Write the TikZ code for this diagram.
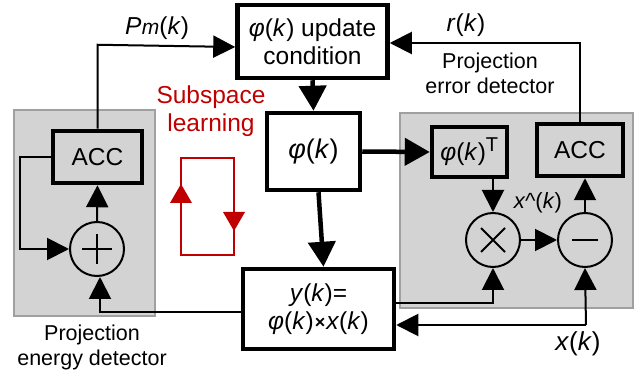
\documentclass[tikz,border=0pt]{standalone}
\usepackage{fontspec}
\setmainfont{Liberation Sans}
\usetikzlibrary{arrows.meta}
\definecolor{panel}{HTML}{D3D3D3}
\definecolor{paneledge}{HTML}{A0A0A0}
\definecolor{lred}{HTML}{C00000}
\begin{document}
\begin{tikzpicture}[x=1pt,y=-1pt,
  txt/.style={font=\fontsize{24.5}{28}\selectfont,align=center,inner sep=0pt},
  blk/.style={txt,draw,line width=4.5pt,fill=white},
  accbox/.style={blk,fill=panel},
  sumnode/.style={draw,circle,line width=2pt,minimum size=54pt,inner sep=0pt},
  thin/.style={line width=2pt,-{Triangle[length=22pt,width=22pt]}},
  thick/.style={line width=4.5pt,-{Triangle[length=25pt,width=27pt]}},
  panelbox/.style={draw=paneledge,fill=panel,line width=2pt},
  redline/.style={draw=lred,line width=2pt}
]
\useasboundingbox (0,0) rectangle (641,377);
% panels
\draw[panelbox] (14,110) rectangle (155,316);
\draw[panelbox] (400,113) rectangle (633,308);

% blocks
\node[blk,minimum width=150pt,minimum height=73pt] (upd) at (312.5,41.5) {\textit{φ}(\textit{k}) update\\condition};
\node[blk,minimum width=93pt,minimum height=77pt] (phi) at (313.5,151.5) {\fontsize{27}{30}\selectfont\textit{φ}(\textit{k})};
\node[blk,minimum width=151pt,minimum height=80pt] (yb) at (318.5,309) {\textit{y}(\textit{k})=\\\textit{φ}(\textit{k})\kern1pt\raisebox{1pt}{\fontsize{18}{20}\selectfont\textbf{×}}\kern1pt\textit{x}(\textit{k})};
\node[accbox,minimum width=89pt,minimum height=52pt] (accL) at (97.5,157) {ACC};
\node[accbox,minimum width=75pt,minimum height=50pt] (phiT) at (469.5,152) {\textit{φ}(\textit{k})\textsuperscript{\fontsize{20}{20}\selectfont T}};
\node[accbox,minimum width=86pt,minimum height=52pt] (accR) at (580,150) {ACC};

% operator circles
\node[sumnode] (plus) at (97,249) {};
\node[sumnode] (mult) at (493,240) {};
\node[sumnode] (minus) at (585,240) {};
\draw[line width=2pt] ([xshift=-15pt]plus.center) -- ([xshift=15pt]plus.center);
\draw[line width=2pt] ([yshift=-15pt]plus.center) -- ([yshift=15pt]plus.center);
\draw[line width=2pt] ([shift={(-12pt,-12pt)}]mult.center) -- ([shift={(12pt,12pt)}]mult.center);
\draw[line width=2pt] ([shift={(-12pt,12pt)}]mult.center) -- ([shift={(12pt,-12pt)}]mult.center);
\draw[line width=2pt] ([xshift=-13pt]minus.center) -- ([xshift=13pt]minus.center);

% coordinates
\coordinate (xin) at (586,325);

% thick connectors
\draw[thick] (upd.south) -- (phi.north);
\draw[thick] (phi.east) -- (phiT.west);
\draw[thick] ([xshift=5pt]phi.south) -- ([xshift=5pt]yb.north);

% thin connectors
\draw[thin] (accL.north) -- ++(0,-84) -- (upd.west |- 0,47);
\draw[thin] (accR.north) -- (accR.north |- 0,43) -- (upd.east |- 0,43);
\draw[thin] (accL.west) -- (20,157) -- (20,249) -- (plus.west);
\draw[thin] (plus.north) -- (accL.south);
\draw[thin] (yb.west |- 0,312) -- (100,312) -- (plus.south -| 100,0);
\draw[thin] (phiT.south -| mult.north) -- (mult.north);
\draw[thin] (mult.east) -- (minus.west);
\draw[thin] (minus.north) -- (accR.south -| minus.north);
\draw[thin] (yb.east |- 0,303) -- (493,303) -- (mult.south);
\draw[thin] (xin) -- (yb.east |- xin);
\draw[thin] (xin) -- (minus.south);

% labels
\node[txt] (lpm) at (157,28) {\textit{P\kern0.5pt{\fontsize{21}{24}\selectfont m}}(\textit{k})};
\node[txt] (lr) at (466,25) {\textit{r}(\textit{k})};
\node[txt,font=\fontsize{21.5}{25}\selectfont] (lerr) at (490,73) {Projection\\error detector};
\node[txt,font=\fontsize{21.5}{25}\selectfont] (leng) at (92,347) {Projection\\energy detector};
\node[txt,font=\fontsize{22}{24}\selectfont] (lxh) at (538,203) {\textit{x\^{}}(\textit{k})};
\node[txt,font=\fontsize{26}{28}\selectfont] (lx) at (578,344) {\textit{x}(\textit{k})};
\node[txt,text=lred] (lsub) at (211,111) {Subspace\\learning};

% red loop
\draw[redline] (181,255) -- (181,158) -- (234,158) -- (234,255) -- cycle;
\fill[lred] (181,184) -- (170,203) -- (192,203) -- cycle;
\fill[lred] (234,231) -- (223,212) -- (245,212) -- cycle;
\end{tikzpicture}
\end{document}
